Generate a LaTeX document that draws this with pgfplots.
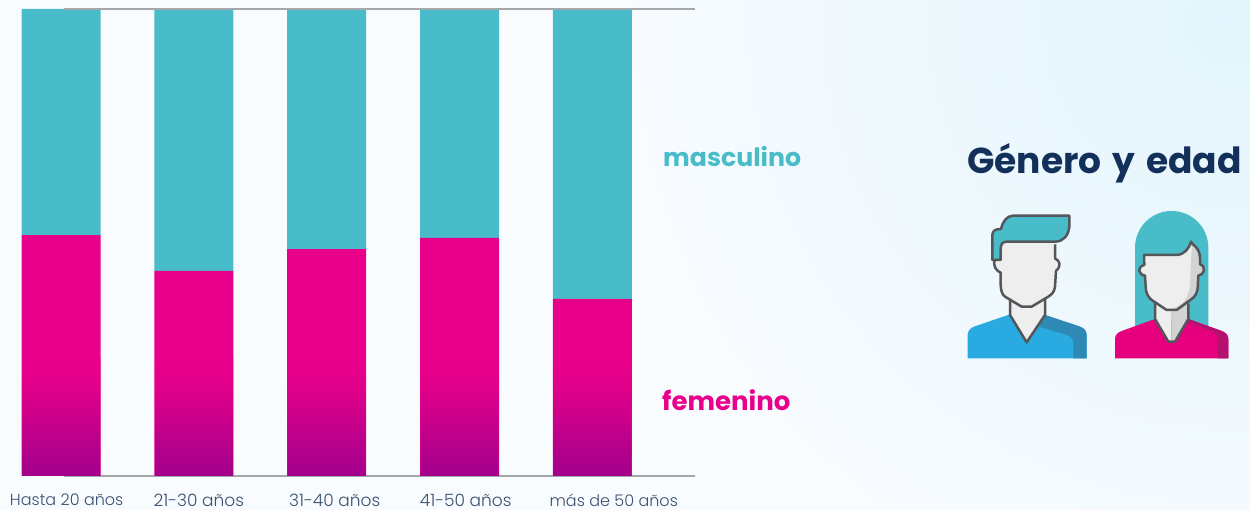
\documentclass[border=0pt]{standalone}
\usepackage{fontspec}
\usepackage{pgfplots}
\pgfplotsset{compat=1.18}
\setmainfont{Poppins}[UprightFont=* Light,BoldFont=* Bold]
\definecolor{fem}{HTML}{E9008A}
\definecolor{femb}{HTML}{A3008C}
\definecolor{mas}{HTML}{48BDC9}
\definecolor{navy}{HTML}{12305A}
\definecolor{lab}{HTML}{3A5070}
\definecolor{ink}{HTML}{54565A}
\definecolor{skin}{HTML}{EEEEEE}
\definecolor{skind}{HTML}{D1D3D4}
\definecolor{blue1}{HTML}{29ABE2}
\definecolor{blue2}{HTML}{2E8AB5}
\definecolor{mag1}{HTML}{E6007E}
\definecolor{mag2}{HTML}{B5126F}
\definecolor{bgA}{HTML}{E3F5FC}
\definecolor{bgB}{HTML}{F9FCFF}
\definecolor{rule}{HTML}{A5A8AA}
\colorlet{g1}{fem!27!femb}
\colorlet{g2}{fem!58!femb}
\colorlet{g3}{fem!88!femb}
\pgfdeclareverticalshading{femgrad}{100bp}{color(0bp)=(femb); color(25bp)=(femb); color(37.5bp)=(g1); color(50bp)=(g2); color(62.5bp)=(g3); color(75bp)=(fem); color(100bp)=(fem)}
\begin{document}
\begin{tikzpicture}[x=1pt,y=1pt]
\useasboundingbox (0,0) rectangle (1250,510);
\begin{scope}
\clip (0,0) rectangle (1250,510);
\shade[inner color=bgA,outer color=bgB] (1230,490) circle (640);
\fill[even odd rule,bgB] (0,-800) rectangle (2500,1400) (1230,490) circle (640);
\end{scope}
\begin{axis}[
  at={(64pt,34pt)},anchor=south west,
  scale only axis,width=631pt,height=467pt,
  xmin=0.0208,xmax=4.774,ymin=0,ymax=100,
  clip=false,
  ybar stacked,bar width=79pt,
  axis y line=none,
  axis x line*=bottom,
  ytick=\empty,
  xtick={0.041,1.036,2.060,3.047,4.162},
  xticklabels={Hasta 20 años,{\fontsize{17}{18}\selectfont 21-30 años},{\fontsize{17}{18}\selectfont 31-40 años},{\fontsize{17}{18}\selectfont 41-50 años},más de 50 años},
  x tick label style={font=\fontsize{16}{18}\selectfont,text=lab,yshift=-14.5pt},
  major tick length=0pt,
  x axis line style={draw=rule,line width=1.2pt,-},
]
\addplot[fill=fem,draw=none] coordinates {(0,51.6) (1,43.9) (2,48.6) (3,51.0) (4,37.9)};
\addplot[fill=mas,draw=none] coordinates {(0,48.4) (1,56.1) (2,51.4) (3,49.0) (4,62.1)};
\end{axis}
\begin{axis}[
  at={(64pt,34pt)},anchor=south west,
  scale only axis,width=631pt,height=467pt,
  xmin=0.0208,xmax=4.774,ymin=0,ymax=100,
  clip=false,
  axis y line=none,
  axis x line*=top,
  xtick=\empty,ytick=\empty,
  x axis line style={draw=rule,line width=1.2pt,-},
  ybar,bar width=78.4pt,bar shift=0pt,
]
\addplot[shade,shading=femgrad,draw=none] coordinates {(0,25.3) (1,25.3) (2,25.3) (3,25.3) (4,25.3)};
\end{axis}
\node[anchor=base west,inner sep=0,text=mas,font=\fontsize{25.2}{30}\selectfont\bfseries] at (663,343.5) {masculino};
\node[anchor=base west,inner sep=0,text=fem,font=\fontsize{26}{30}\selectfont\bfseries] at (662,99.5) {femenino};
\node[anchor=base west,inner sep=0,text=navy,font=\fontsize{36}{40}\selectfont\bfseries] at (967,336) {Género\kern3pt{} y\kern3.5pt{} edad};
% man
\begin{scope}[shift={(960,305)},x=0.3333pt,y=-0.3333pt]
\fill[blue1] (23,460) -- (23,390) to[out=90,in=200] (42,365) -- (150,328) -- (255,330) -- (360,365) to[out=-20,in=90] (380,390) -- (380,460) -- cycle;
\fill[blue2] (255,330) -- (360,365) to[out=-20,in=90] (380,390) -- (380,460) -- (340,460) -- (340,415) to[out=90,in=-20] (320,390) -- (238,365) -- cycle;
\filldraw[fill=skin,draw=ink,line width=2.5pt,line join=round] (150,280) -- (150,330) -- (200,412) -- (255,330) -- (255,280);
\fill[skin] (122,110) -- (285,110) -- (285,160) .. controls (300,168) and (305,182) .. (288,198) -- (285,245) .. controls (283,262) and (275,268) .. (265,275) -- (215,305) -- (185,305) -- (135,275) .. controls (125,268) and (123,255) .. (122,240) -- (122,203) .. controls (108,198) and (98,180) .. (104,165) -- (122,165) -- cycle;
\draw[ink,line width=2.5pt,line join=round] (285,118) -- (285,160) .. controls (300,168) and (305,182) .. (288,198) -- (285,245) .. controls (283,262) and (275,268) .. (265,275) -- (215,305) -- (185,305) -- (135,275) .. controls (125,268) and (123,255) .. (122,240) -- (122,203) .. controls (108,198) and (98,180) .. (104,165);
\filldraw[fill=mas,draw=ink,line width=2.5pt,line join=round] (97,165) -- (97,90) .. controls (97,76) and (108,72) .. (123,72) .. controls (128,50) and (140,32) .. (160,32) -- (328,32) -- (328,65) .. controls (325,92) and (310,110) .. (285,110) -- (140,110) .. controls (128,110) and (122,118) .. (122,130) -- (122,165) -- cycle;
\end{scope}
% woman
\begin{scope}[shift={(1105,305)},x=0.3333pt,y=-0.3333pt]
\fill[mas] (90,365) -- (90,128) .. controls (90,67) and (139,18) .. (200,18) .. controls (261,18) and (310,67) .. (310,128) -- (310,365) -- cycle;
\fill[mag1] (30,460) -- (30,402) to[out=90,in=200] (50,378) -- (150,342) -- (250,342) -- (350,378) to[out=-20,in=90] (370,402) -- (370,460) -- cycle;
\fill[mag2] (250,342) -- (350,378) to[out=-20,in=90] (370,402) -- (370,460) -- (338,460) -- (338,402) to[out=90,in=-20] (322,380) -- (246,352) -- cycle;
\fill[skin] (150,295) -- (150,342) -- (190,410) -- (200,410) -- (200,295) -- cycle;
\fill[skind] (200,295) -- (200,410) -- (210,410) -- (250,342) -- (250,295) -- cycle;
\draw[ink,line width=2.5pt,line join=round] (150,295) -- (150,342) -- (190,410) -- (210,410) -- (250,342) -- (250,295);
\fill[skin] (117,150) -- (215,150) .. controls (240,148) and (252,130) .. (258,110) .. controls (258,118) and (285,125) .. (285,160) -- (285,178) .. controls (305,185) and (298,210) .. (280,212) -- (278,250) .. controls (276,265) and (270,275) .. (260,282) -- (215,315) -- (185,315) -- (140,285) .. controls (128,275) and (122,262) .. (122,245) -- (120,212) .. controls (100,210) and (95,185) .. (118,180) -- cycle;
\fill[skind] (258,118) .. controls (275,125) and (285,135) .. (285,160) -- (285,178) .. controls (305,185) and (298,210) .. (280,212) -- (278,250) .. controls (276,265) and (270,275) .. (260,282) -- (215,315) -- (190,315) .. controls (230,305) and (250,285) .. (255,240) -- (258,170) .. controls (258,150) and (262,135) .. (258,118) -- cycle;
\draw[ink,line width=2.5pt,line join=round] (117,150) -- (215,150) .. controls (240,148) and (252,130) .. (258,110) .. controls (258,118) and (285,125) .. (285,160) -- (285,178) .. controls (305,185) and (298,210) .. (280,212) -- (278,250) .. controls (276,265) and (270,275) .. (260,282) -- (215,315) -- (185,315) -- (140,285) .. controls (128,275) and (122,262) .. (122,245) -- (120,212) .. controls (100,210) and (95,185) .. (118,180) -- cycle;
\end{scope}
\end{tikzpicture}
\end{document}
